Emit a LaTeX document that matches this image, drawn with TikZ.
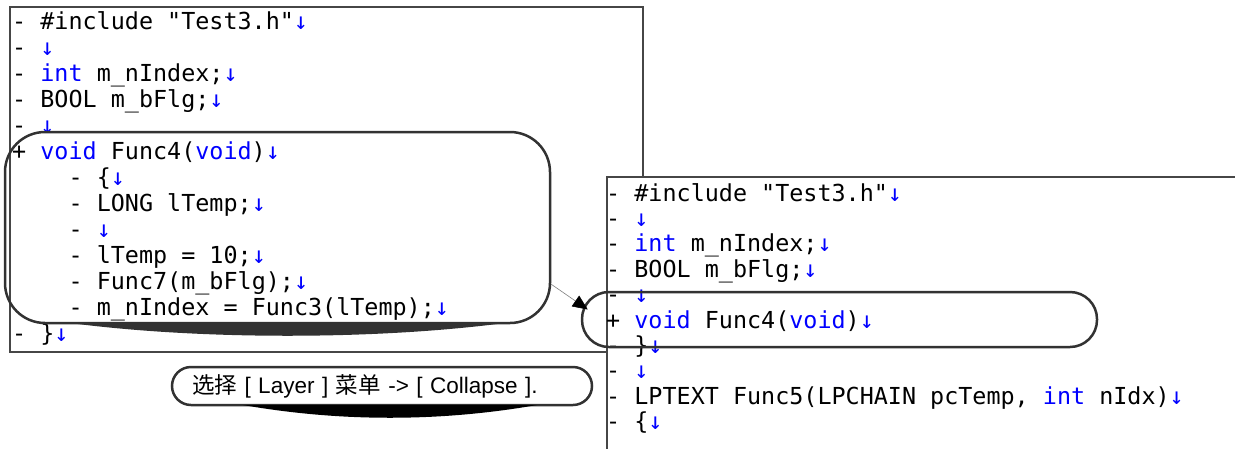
\documentclass[tikz,border=0pt]{standalone}
\usepackage{fontspec}
\setmainfont{Liberation Sans}
\newfontfamily\codefont{DejaVu Sans Mono}[WordSpace={1,0,0},PunctuationSpace=0]
\newfontfamily\cjkfont{Noto Sans CJK SC}
\usetikzlibrary{arrows.meta}
\definecolor{kwblue}{RGB}{0,0,255}
\definecolor{framegray}{RGB}{70,70,70}
\definecolor{markgray}{RGB}{50,50,50}
\newcommand{\kw}[1]{\textcolor{kwblue}{#1}}
\newcommand{\crlf}{\textcolor{kwblue}{↓}}

\begin{document}
\begin{tikzpicture}[x=1pt,y=-1pt,
  code/.style={anchor=base west,inner sep=0pt,font=\codefont\fontsize{23.4pt}{26pt}\selectfont},
  panel/.style={draw=framegray,line width=2pt,fill=white},
  callout/.style={draw=markgray,line width=2.5pt,rounded corners=#1,inner sep=0pt}]
  \useasboundingbox (0,0) rectangle (1235,448);
  \clip (0,0) rectangle (1235,448);

  % source before collapsing
  \draw[panel] (10,7) rectangle (643,352);
  \foreach \mk/\c/\txt [count=\i from 0] in {
    -/0/{\#include "Test3.h"\crlf},
    -/0/{\crlf},
    -/0/{\kw{int} m\_nIndex;\crlf},
    -/0/{BOOL m\_bFlg;\crlf},
    -/0/{\crlf},
    +/0/{\kw{void} Func4(\kw{void})\crlf},
    -/4/{\{\crlf},
    -/4/{LONG lTemp;\crlf},
    -/4/{\crlf},
    -/4/{lTemp = 10;\crlf},
    -/4/{Func7(m\_bFlg);\crlf},
    -/4/{m\_nIndex = Func3(lTemp);\crlf},
    -/0/{\}\crlf}}
  {
    \node[code] (lmark\i) at ({12+14.1*\c},{29+26*\i}) {\mk};
    \node[code] (lline\i) at ({12+14.1*(\c+2)},{29+26*\i}) {\txt};
  }
  \node[callout=40pt,minimum width=545pt,minimum height=191pt] (foldbox) at (277.5,227.5) {};
  \fill[markgray] (70,323) .. controls (200,340) and (375,340) .. (505,323) -- cycle;

  \node[callout=19pt,minimum width=420pt,minimum height=38pt,inner xsep=20pt,
    text width=380pt,align=left,font=\fontsize{22.5pt}{26pt}\selectfont] (menuhint) at (382,386)
    {{\cjkfont 选择} [ Layer ] {\cjkfont 菜单} -> [ Collapse ].};
  \fill[black] (243,405) .. controls (340,422) and (440,422) .. (537,405) -- cycle;

  % source after collapsing
  \draw[panel] (607,177) rectangle (1245,460);
  \foreach \mk/\txt [count=\i from 0] in {
    -/{\#include "Test3.h"\crlf},
    -/{\crlf},
    -/{\kw{int} m\_nIndex;\crlf},
    -/{BOOL m\_bFlg;\crlf},
    -/{\crlf},
    +/{\kw{void} Func4(\kw{void})\crlf},
    -/{\}\crlf},
    -/{\crlf},
    -/{LPTEXT Func5(LPCHAIN pcTemp, \kw{int} nIdx)\crlf},
    -/{\{\crlf}}
  {
    \node[code] (rmark\i) at (606,{201+25.4*\i}) {\mk};
    \node[code] (rline\i) at ({606+14.1*2},{201+25.4*\i}) {\txt};
  }
  \node[callout=27pt,minimum width=515pt,minimum height=55pt] (collapsed) at (839.5,319.5) {};

  \draw[gray,line width=0.6pt,-{Triangle[length=15pt,width=13pt,color=black]}]
    ([yshift=40pt]foldbox.south east) -- ([xshift=7pt,yshift=10pt]collapsed.west);
\end{tikzpicture}
\end{document}
